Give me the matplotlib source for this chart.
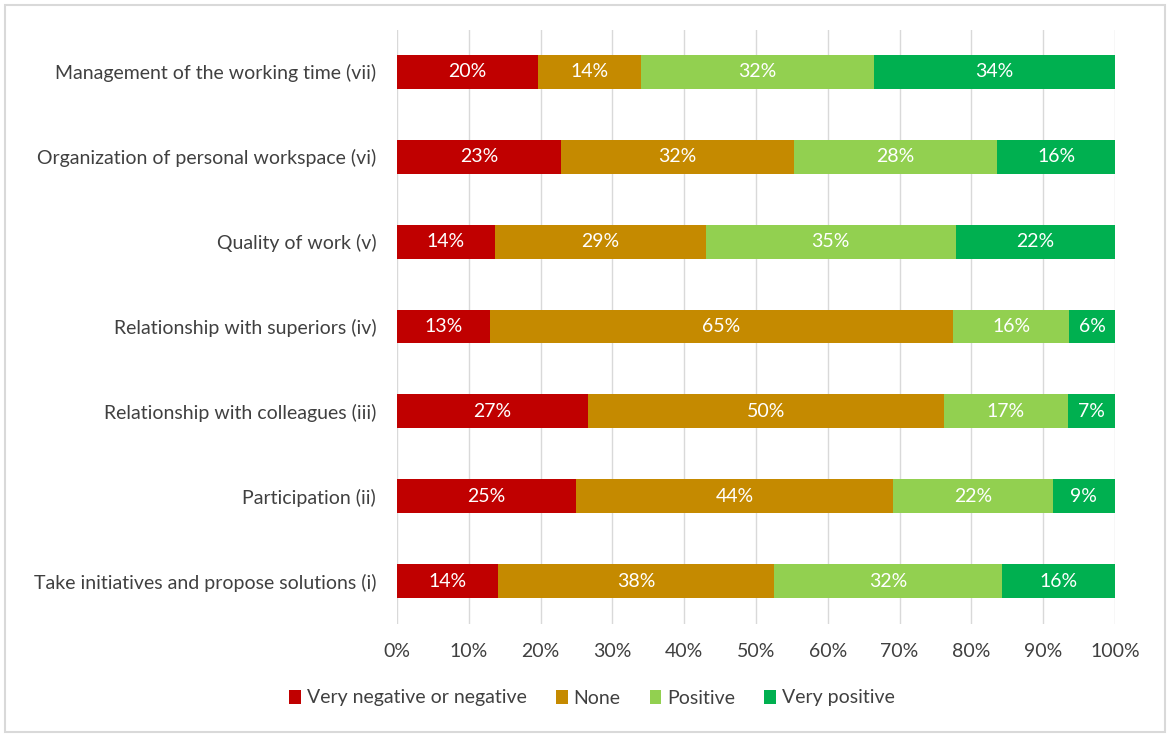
import matplotlib.pyplot as plt
from matplotlib.patches import Rectangle

# categories listed bottom to top
categories = [
    'Take initiatives and propose solutions (i)',
    'Participation (ii)',
    'Relationship with colleagues (iii)',
    'Relationship with superiors (iv)',
    'Quality of work (v)',
    'Organization of personal workspace (vi)',
    'Management of the working time (vii)',
]
very_negative = [14.1, 24.9, 26.6, 12.9, 13.6, 22.9, 19.6]
none = [38.4, 44.2, 49.6, 64.6, 29.4, 32.4, 14.4]
positive = [31.8, 22.2, 17.2, 16.1, 34.8, 28.3, 32.4]
very_positive = [15.7, 8.7, 6.6, 6.4, 22.2, 16.4, 33.6]

series_names = ['Very negative or negative', 'None', 'Positive', 'Very positive']
colors = ['#C00000', '#C58A00', '#92D050', '#00B050']
xticks = [0, 10, 20, 30, 40, 50, 60, 70, 80, 90, 100]

plt.rcParams['font.family'] = ['Lato', 'DejaVu Sans']

fig = plt.figure(figsize=(11.7, 7.37), dpi=100)
ax = fig.add_axes([397 / 1170, 1 - 623.5 / 737, 718 / 1170, 594 / 737])

y = list(range(len(categories)))
left = [0] * len(categories)
for name, vals, col in zip(series_names, [very_negative, none, positive, very_positive], colors):
    bars = ax.barh(y, vals, left=left, height=0.4, color=col, label=name, zorder=3)
    for b, v in zip(bars, vals):
        ax.text(b.get_x() + b.get_width() / 2, b.get_y() + b.get_height() / 2,
                f'{v:.0f}%', ha='center', va='center', color='white', fontsize=14, zorder=4)
    left = [l + v for l, v in zip(left, vals)]

ax.set_xlim(0, 100)
ax.set_ylim(-0.5, len(categories) - 0.5)
ax.set_xticks(xticks)
ax.set_xticklabels([f'{t}%' for t in xticks])
ax.set_yticks(y)
ax.set_yticklabels(categories)
ax.tick_params(axis='both', length=0, labelsize=14, colors='#404040')
ax.tick_params(axis='x', pad=14)
ax.tick_params(axis='y', pad=15)
ax.grid(axis='x', color='#D9D9D9', linewidth=1, zorder=0)
for s in ax.spines.values():
    s.set_visible(False)

fig.legend(loc='center', bbox_to_anchor=(592 / 1170, 1 - 698 / 737), ncol=4, frameon=False,
           fontsize=14, handlelength=0.6, handleheight=0.7, handletextpad=0.3,
           columnspacing=1.5, labelcolor='#404040')

fig.add_artist(Rectangle((5 / 1170, 5 / 737), 1160 / 1170, 727 / 737, transform=fig.transFigure,
                         fill=False, edgecolor='#D9D9D9', linewidth=1.5))

fig.savefig('out.png', dpi=100)
